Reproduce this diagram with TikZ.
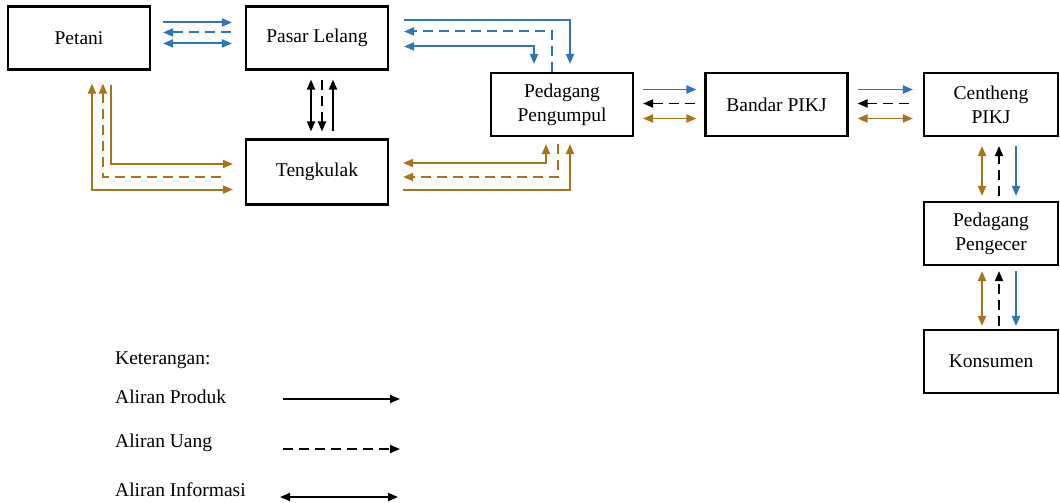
\documentclass[tikz,border=0pt]{standalone}
\usepackage{fontspec}
\setmainfont{Liberation Serif}
\usepackage{xcolor}
\definecolor{blu}{HTML}{2E75B6}
\definecolor{brn}{HTML}{A6741A}
\usetikzlibrary{arrows.meta, calc}

\begin{document}
\begin{tikzpicture}[x=1pt, y=-1pt,
  every node/.style={font=\fontsize{19.5}{24}\selectfont},
  >={Triangle[length=10pt,width=8pt]},
  box/.style={draw, line width=2.1pt, minimum width=142pt, minimum height=63pt, align=center, inner sep=0pt},
  flow/.style={line width=1.9pt},
  money/.style={flow, dash pattern=on 10pt off 6pt},
  prodblue/.style={flow, blu},
  prodbrown/.style={flow, brn}]
  \useasboundingbox (0,0) rectangle (1060,503);

  % Boxes
  \node[box] (petani) at (79,38) {Petani};
  \node[box] (pasar) at (317,38) {Pasar Lelang};
  \node[box, minimum height=65pt] (tengkulak) at (317,172) {Tengkulak};
  \node[box] (pengumpul) at (562,104.5) {Pedagang\\Pengumpul};
  \node[box] (bandar) at (776.5,104.5) {Bandar PIKJ};
  \node[box, minimum width=134pt] (centheng) at (991,104.5) {Centheng\\PIKJ};
  \node[box, minimum width=134pt] (pengecer) at (991,233.5) {Pedagang\\Pengecer};
  \node[box, minimum width=134pt] (konsumen) at (991,361.5) {Konsumen};

  % Petani <-> Pasar Lelang (blue)
  \draw[prodblue, ->] ($(petani.north east)+(12,17)$) -- ($(pasar.north west)+(-13,17)$);
  \draw[prodblue, money, <-] ($(petani.north east)+(12,27)$) -- ($(pasar.north west)+(-13,27)$);
  \draw[prodblue, <->] ($(petani.north east)+(12,38)$) -- ($(pasar.north west)+(-13,38)$);

  % Petani <-> Tengkulak (brown)
  \draw[prodbrown, <->] ($(petani.south west)+(85,13)$) |- ($(tengkulak.south west)+(-12,-16)$);
  \draw[prodbrown, money, <-] ($(petani.south west)+(96,13)$) |- ($(tengkulak.west)+(-22,5)$);
  \draw[prodbrown, ->] ($(petani.south west)+(104,14)$) |- ($(tengkulak.west)+(-12,-8)$);

  % Pasar Lelang <-> Tengkulak (black)
  \draw[flow, <->] ($(pasar.south)+(-6,9)$) -- ($(tengkulak.north)+(-6,-7)$);
  \draw[money, ->] ($(pasar.south)+(5,9)$) -- ($(tengkulak.north)+(5,-7)$);
  \draw[flow, <-] ($(pasar.south)+(16,9)$) -- ($(tengkulak.north)+(16,-7)$);

  % Pasar Lelang <-> Pedagang Pengumpul (blue)
  \draw[prodblue, ->] ($(pasar.north east)+(15,15)$) -| ($(pengumpul.north)+(8,-8)$);
  \draw[prodblue, money, ->] (pengumpul.north) ++(-10,0) |- ($(pasar.north east)+(15,26)$);
  \draw[prodblue, <->] ($(pasar.north east)+(15,41)$) -| ($(pengumpul.north)+(-28,-8)$);

  % Tengkulak <-> Pedagang Pengumpul (brown)
  \draw[prodbrown, <->] ($(tengkulak.east)+(14,-9)$) -| ($(pengumpul.south)+(-16,7)$);
  \draw[prodbrown, money, ->] ($(pengumpul.south)+(-4,7)$) |- ($(tengkulak.east)+(14,5)$);
  \draw[prodbrown, ->] ($(tengkulak.east)+(14,18)$) -| ($(pengumpul.south)+(8,7)$);

  % Pedagang Pengumpul <-> Bandar PIKJ
  \draw[prodblue, ->] ($(pengumpul.east)+(9,-15)$) -- ($(bandar.west)+(-8,-15)$);
  \draw[money, <-] ($(pengumpul.east)+(9,-1)$) -- ($(bandar.west)+(-8,-1)$);
  \draw[prodbrown, <->] ($(pengumpul.east)+(9,14)$) -- ($(bandar.west)+(-8,14)$);

  % Bandar PIKJ <-> Centheng PIKJ
  \draw[prodblue, ->] ($(bandar.east)+(9,-15)$) -- ($(centheng.west)+(-10,-15)$);
  \draw[money, <-] ($(bandar.east)+(9,-1)$) -- ($(centheng.west)+(-10,-1)$);
  \draw[prodbrown, <->] ($(bandar.east)+(9,14)$) -- ($(centheng.west)+(-10,14)$);

  % Centheng PIKJ <-> Pedagang Pengecer
  \draw[prodbrown, <->] ($(centheng.south)+(-9,9)$) -- ($(pengecer.north)+(-9,-5)$);
  \draw[money, ->] ($(pengecer.north)+(8,-5)$) -- ($(centheng.south)+(8,9)$);
  \draw[prodblue, ->] ($(centheng.south)+(25,9)$) -- ($(pengecer.north)+(25,-5)$);

  % Pedagang Pengecer <-> Konsumen
  \draw[prodbrown, <->] ($(pengecer.south)+(-9,5)$) -- ($(konsumen.north)+(-9,-3)$);
  \draw[money, ->] ($(konsumen.north)+(8,-3)$) -- ($(pengecer.south)+(8,5)$);
  \draw[prodblue, ->] ($(pengecer.south)+(25,5)$) -- ($(konsumen.north)+(25,-3)$);

  % Legend
  \node[anchor=west, inner sep=0pt] (keterangan) at (115,360) {Keterangan:};
  \node[anchor=west, inner sep=0pt] (produk) at (115,397) {Aliran Produk};
  \node[anchor=west, inner sep=0pt] (uang) at (115,443) {Aliran Uang};
  \node[anchor=west, inner sep=0pt] (informasi) at (115,490) {Aliran Informasi};
  \coordinate (produkA) at (283,399);
  \coordinate (produkB) at (400,399);
  \coordinate (uangA) at (283,449);
  \coordinate (uangB) at (400,449);
  \coordinate (infoA) at (280,497);
  \coordinate (infoB) at (398,497);
  \draw[flow, ->] (produkA) -- (produkB);
  \draw[money, ->] (uangA) -- (uangB);
  \draw[flow, <->] (infoA) -- (infoB);
\end{tikzpicture}
\end{document}
